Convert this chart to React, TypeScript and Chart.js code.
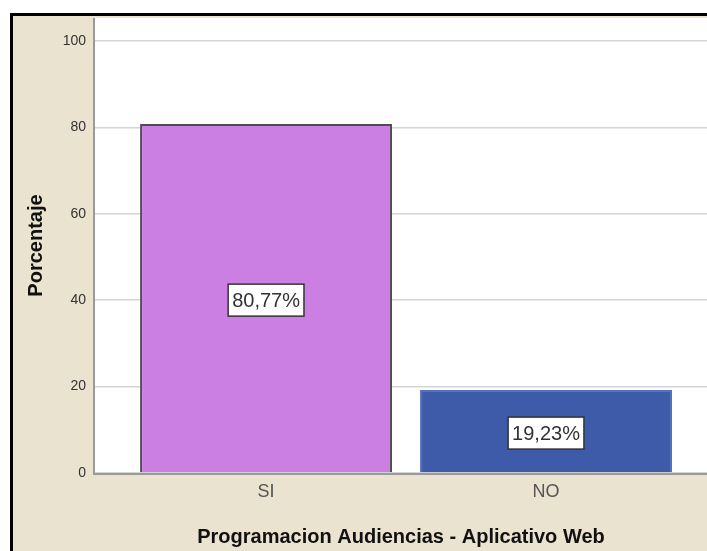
import React, { useEffect, useRef } from "react";
import { Chart, registerables } from "chart.js";

Chart.register(...registerables);

const categories = ["SI", "NO"];
const positions = [1, 2];
const percentages = [80.77, 19.23];
const valueLabels = ["80,77%", "19,23%"];
const yTicks = [0, 20, 40, 60, 80, 100];
const barColors = ["#CB7FE3", "#3E5BA9"];
const barBorders = ["#4d4d4d", "#5570bb"];

const BEIGE = "#EAE3D0";
const FONT = "'Liberation Sans', Arial, sans-serif";

const bgPlugin = {
  id: "bg",
  beforeDraw(chart: any) {
    const { ctx, width, height, chartArea } = chart;
    ctx.save();
    ctx.fillStyle = "#ffffff";
    ctx.fillRect(0, 0, width, height);
    ctx.fillStyle = "#000000";
    ctx.fillRect(10, 13, width - 10, height - 13);
    ctx.fillStyle = BEIGE;
    ctx.fillRect(13, 16, width - 13, height - 16);
    ctx.fillStyle = "#ffffff";
    ctx.fillRect(chartArea.left, chartArea.top, chartArea.right - chartArea.left, chartArea.bottom - chartArea.top);
    ctx.restore();
  },
  afterDatasetsDraw(chart: any) {
    const { ctx, chartArea } = chart;
    ctx.save();
    ctx.strokeStyle = "#9a9a9a";
    ctx.lineWidth = 2;
    ctx.beginPath();
    ctx.moveTo(chartArea.left - 1, chartArea.top);
    ctx.lineTo(chartArea.left - 1, chartArea.bottom + 1);
    ctx.lineTo(chartArea.right, chartArea.bottom + 1);
    ctx.stroke();
    const meta = chart.getDatasetMeta(0);
    ctx.font = "20px " + FONT;
    ctx.textAlign = "center";
    ctx.textBaseline = "middle";
    meta.data.forEach((bar: any, i: number) => {
      const cx = bar.x;
      const cy = (bar.y + bar.base) / 2 + 2;
      const text = valueLabels[i];
      const w = ctx.measureText(text).width + 8;
      const h = 32;
      ctx.fillStyle = "#ffffff";
      ctx.fillRect(cx - w / 2, cy - h / 2, w, h);
      ctx.strokeStyle = "#333333";
      ctx.lineWidth = 1.5;
      ctx.strokeRect(cx - w / 2, cy - h / 2, w, h);
      ctx.fillStyle = "#333333";
      ctx.fillText(text, cx, cy + 1);
    });
    ctx.restore();
  },
};

export default function App() {
  const ref = useRef<HTMLCanvasElement>(null);
  useEffect(() => {
    document.body.style.margin = "0";
    const chart = new Chart(ref.current!, {
      type: "bar",
      data: {
        datasets: [
          {
            data: positions.map((x, i) => ({ x, y: percentages[i] })),
            backgroundColor: barColors,
            borderColor: barBorders,
            borderWidth: 2,
            barPercentage: 0.9,
            categoryPercentage: 1,
          },
        ],
      },
      options: {
        animation: false,
        responsive: false,
        layout: { padding: { top: 18, left: 0, right: 0, bottom: 0 } },
        plugins: { legend: { display: false }, tooltip: { enabled: false } },
        scales: {
          x: {
            type: "linear",
            offset: false,
            min: 0.389,
            max: 2.575,
            afterBuildTicks(scale: any) {
              scale.ticks = positions.map((v) => ({ value: v }));
            },
            afterFit(scale: any) {
              scale.height = 78;
            },
            grid: { display: false, drawTicks: false },
            border: { display: false },
            ticks: {
              padding: 8,
              color: "#555555",
              font: { family: FONT, size: 18 },
              callback: (v: any) => categories[positions.indexOf(Number(v))] ?? "",
            },
            title: {
              display: true,
              text: "Programacion Audiencias - Aplicativo Web",
              color: "#111111",
              font: { family: FONT, size: 20, weight: "bold" },
              padding: { top: 0, bottom: 2 },
            },
          },
          y: {
            min: 0,
            max: 105.3,
            afterBuildTicks(scale: any) {
              scale.ticks = yTicks.map((v) => ({ value: v }));
            },
            afterFit(scale: any) {
              scale.width = 95;
            },
            grid: { color: "#d4d4d4", lineWidth: 1.5, drawTicks: false },
            border: { display: false },
            ticks: {
              padding: 9,
              color: "#333333",
              font: { family: FONT, size: 14 },
            },
            title: {
              display: true,
              text: "Porcentaje",
              color: "#111111",
              font: { family: FONT, size: 20, weight: "bold" },
              padding: { top: 24, bottom: 0 },
            },
          },
        },
      },
      plugins: [bgPlugin],
    });
    return () => chart.destroy();
  }, []);
  return <canvas ref={ref} width={707} height={551} style={{ display: "block" }} />;
}
